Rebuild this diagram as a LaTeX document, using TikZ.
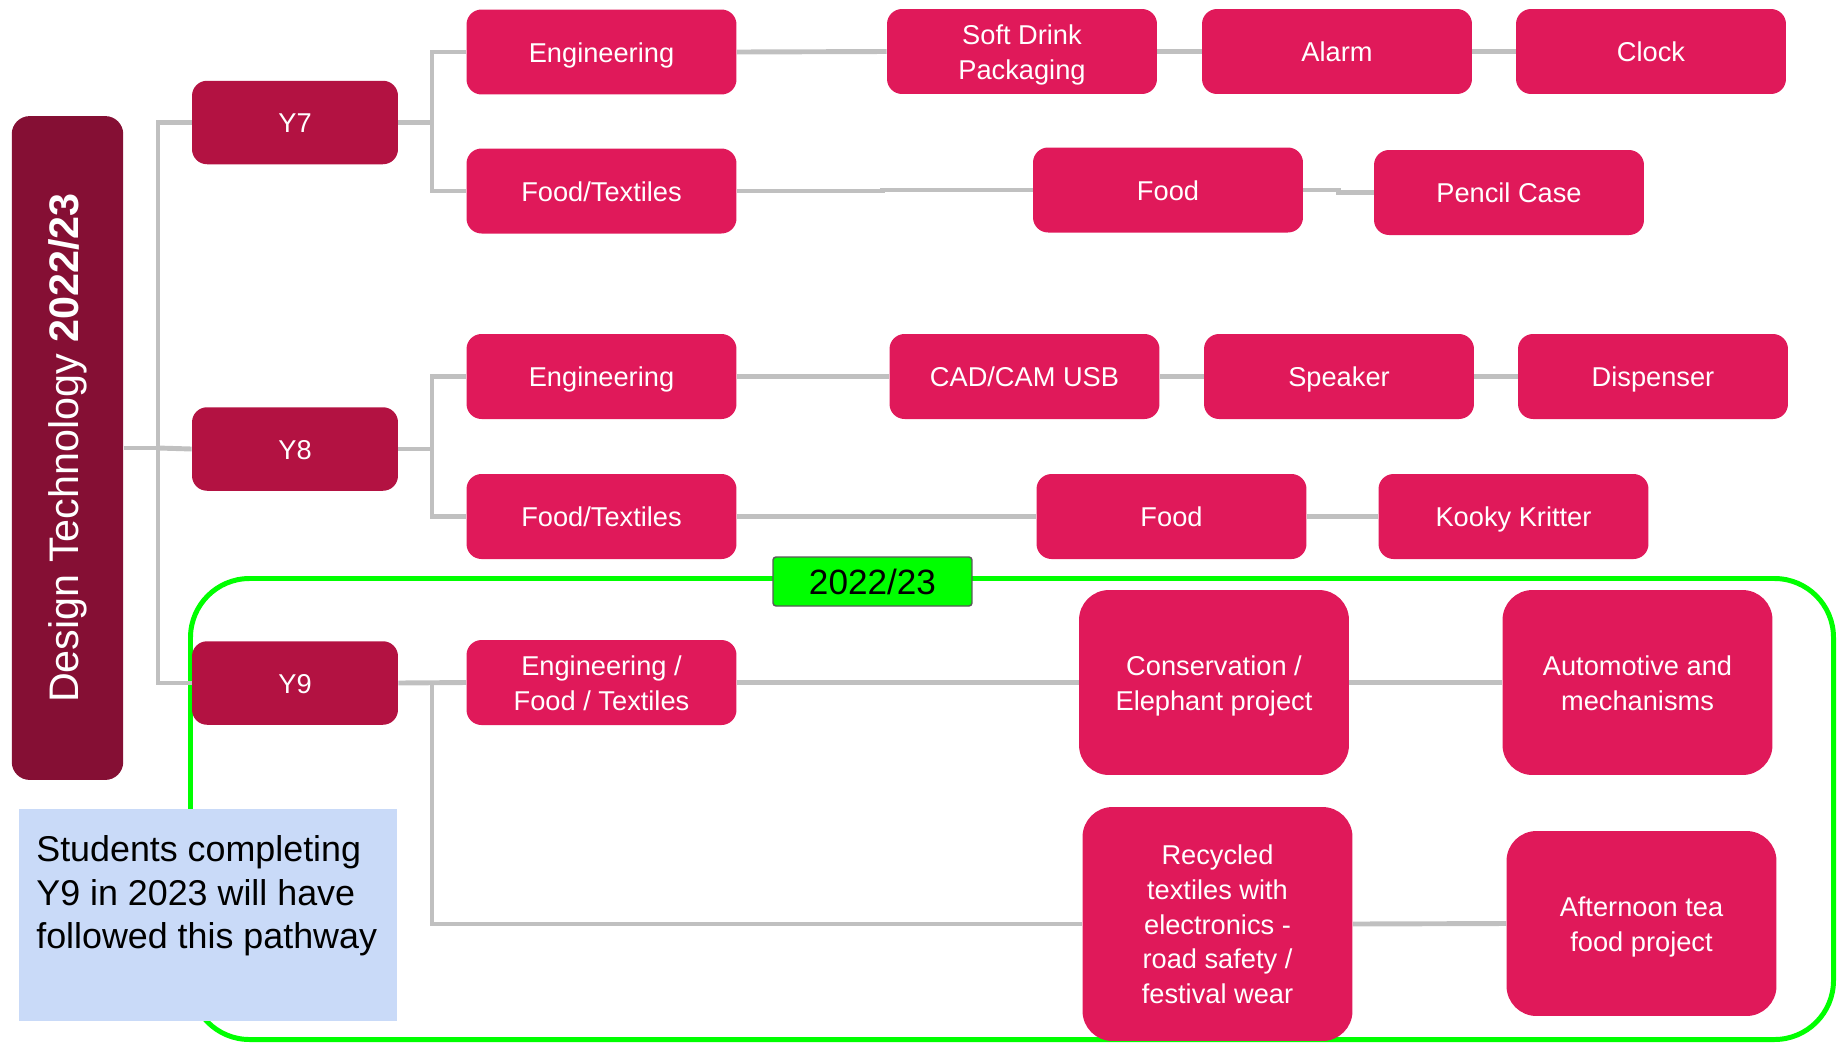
\documentclass[tikz,border=0pt]{standalone}
\usepackage{fontspec}
\setmainfont{Liberation Sans}
\usetikzlibrary{backgrounds}
\definecolor{pinkc}{RGB}{224,25,90}
\definecolor{ycol}{RGB}{179,18,66}
\definecolor{titlec}{RGB}{133,15,52}
\definecolor{linegrey}{RGB}{192,192,192}
\definecolor{bluec}{RGB}{201,218,248}
\definecolor{brightgreen}{RGB}{0,255,0}
\newcommand\bt[1]{\raisebox{-1.8pt}[\height][\depth]{\begin{tabular}{@{}c@{}}#1\end{tabular}}}
\tikzset{
  conn/.style={draw=linegrey, line width=2.8pt},
  boxfont/.style={font=\fontsize{15.5}{19.8}\selectfont},
  pinkbox/.style={fill=pinkc, rounded corners=0.3cm, text=white, boxfont, align=center,
    minimum width=5.4cm, minimum height=1.7cm, inner sep=0pt},
  tallbox/.style={pinkbox, minimum height=3.7cm, rounded corners=0.6cm},
  ybox/.style={fill=ycol, rounded corners=0.3cm, text=white, boxfont,
    minimum width=4.12cm, minimum height=1.67cm, inner sep=0pt},
}
\begin{document}
\begin{tikzpicture}[x=0.02cm, y=-0.02cm]
\useasboundingbox (0,0) rectangle (1840,1046);
% title
\node[fill=titlec, rounded corners=0.36cm, minimum width=2.23cm, minimum height=13.28cm, inner sep=0pt] (title) at (67.5,448) {};
\node[rotate=90, text=white, font=\fontsize{23.5}{28}\selectfont] (titletext) at (title.center) {Design Technology \textbf{2022/23}};
% year boxes
\node[ybox] (y7) at (295,122.5) {\bt{Y7}};
\node[ybox] (y8) at (295,449) {\bt{Y8}};
\node[ybox] (y9) at (295,683) {\bt{Y9}};
% Y7 row
\node[pinkbox] (e7) at (601.5,52) {\bt{Engineering}};
\node[pinkbox] (ft7) at (601.5,191) {\bt{Food/Textiles}};
\node[pinkbox] (sd) at (1022,51.5) {\bt{Soft Drink\\Packaging}};
\node[pinkbox] (alarm) at (1337,51.5) {\bt{Alarm}};
\node[pinkbox] (clock) at (1651,51.5) {\bt{Clock}};
\node[pinkbox] (food7) at (1168,190) {\bt{Food}};
\node[pinkbox] (pencil) at (1509,192.5) {\bt{Pencil Case}};
% Y8 row
\node[pinkbox] (e8) at (601.5,376.5) {\bt{Engineering}};
\node[pinkbox] (ft8) at (601.5,516.5) {\bt{Food/Textiles}};
\node[pinkbox] (cad) at (1024.5,376.5) {\bt{CAD/CAM USB}};
\node[pinkbox] (speaker) at (1339,376.5) {\bt{Speaker}};
\node[pinkbox] (disp) at (1653,376.5) {\bt{Dispenser}};
\node[pinkbox] (food8) at (1171.5,516.5) {\bt{Food}};
\node[pinkbox] (kooky) at (1513.5,516.5) {\bt{Kooky Kritter}};
% Y9 row
\node[pinkbox] (eft) at (601.5,682.5) {\bt{Engineering /\\Food / Textiles}};
\node[tallbox] (cons) at (1214,682.5) {\bt{Conservation /\\Elephant project}};
\node[tallbox] (auto) at (1637.5,682.5) {\bt{Automotive and\\mechanisms}};
\node[tallbox, minimum height=4.68cm] (rec) at (1217.5,924) {\bt{Recycled\\textiles with\\electronics -\\road safety /\\festival wear}};
\node[tallbox] (aft) at (1641.5,923.5) {\bt{Afternoon tea\\food project}};
% branch points
\coordinate (tr) at (158,448);
\coordinate (b7) at (432,122.5);
\coordinate (b8) at (432,449);
\coordinate (b9) at (432,683);
\begin{pgfonlayer}{background}
  \draw[brightgreen, line width=2.83pt, rounded corners=1.18cm] (190.5,578.5) rectangle (1833.5,1039.5);
  \draw[conn] (title.east) -- (tr);
  \draw[conn] (y7.west) -| (tr) |- (y9.west);
  \draw[conn] (tr) -- (y8.west);
  \draw[conn] (y7.east) -- (b7);
  \draw[conn] (e7.west) -| (b7) |- (ft7.west);
  \draw[conn] (e7.east) -- (sd.west);
  \draw[conn] (sd.east) -- (alarm.west);
  \draw[conn] (alarm.east) -- (clock.west);
  \draw[conn] (ft7.east) -- ++(146,0) |- (food7.west);
  \draw[conn] (food7.east) -- ++(35,0) |- (pencil.west);
  \draw[conn] (y8.east) -- (b8);
  \draw[conn] (e8.west) -| (b8) |- (ft8.west);
  \draw[conn] (e8.east) -- (cad.west);
  \draw[conn] (cad.east) -- (speaker.west);
  \draw[conn] (speaker.east) -- (disp.west);
  \draw[conn] (ft8.east) -- (food8.west);
  \draw[conn] (food8.east) -- (kooky.west);
  \draw[conn] (y9.east) -- (eft.west);
  \draw[conn] (b9) |- (rec.west);
  \draw[conn] (eft.east) -- (cons.west);
  \draw[conn] (cons.east) -- (auto.west);
  \draw[conn] (rec.east) -- (aft.west);
\end{pgfonlayer}
% note
\node[fill=bluec, minimum width=7.56cm, minimum height=4.24cm, anchor=north west, inner sep=0pt] (note) at (19,809) {};
\node[anchor=north west, align=left, inner sep=0pt, font=\fontsize{20.4}{24.6}\selectfont] (notetext) at (36,835.5) {Students completing\\Y9 in 2023 will have\\followed this pathway};
% label
\node[fill=brightgreen, draw=black!65, line width=0.8pt, rounded corners=0.06cm, minimum width=3.98cm, minimum height=0.98cm, inner sep=0pt, font=\fontsize{20}{24}\selectfont] (lbl) at (872.5,581.5) {2022/23};
\end{tikzpicture}
\end{document}
